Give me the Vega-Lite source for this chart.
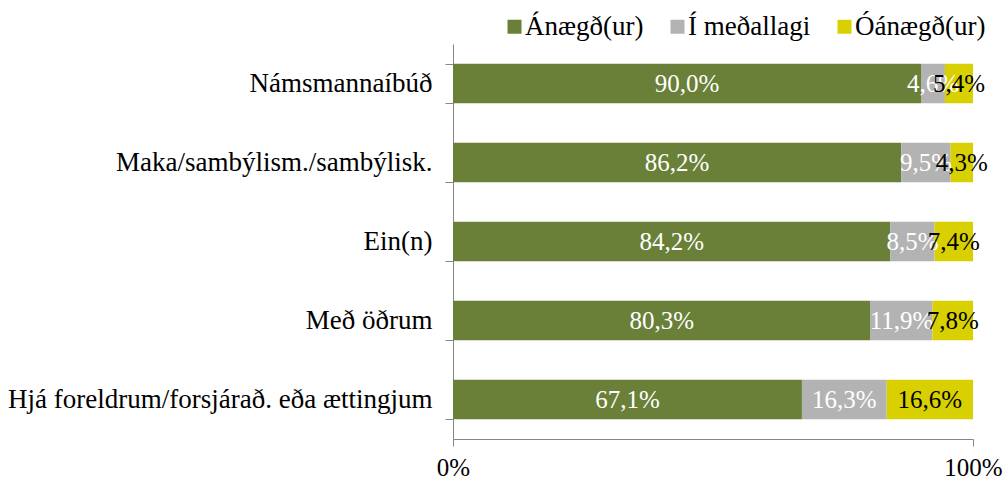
{
  "$schema": "https://vega.github.io/schema/vega-lite/v6.json",
  "autosize": "none",
  "width": 520,
  "height": 395,
  "padding": {"left": 453, "top": 44, "right": 30, "bottom": 40},
  "config": {
    "font": "Times New Roman, Liberation Serif, serif",
    "view": {"stroke": null},
    "locale": {"number": {"decimal": ",", "thousands": ".", "grouping": [3], "currency": ["", " kr."]}}
  },
  "data": {
    "values": [
      {"c": "Námsmannaíbúð", "g": "Ánægð(ur)", "v": 90.0},
      {"c": "Námsmannaíbúð", "g": "Í meðallagi", "v": 4.6},
      {"c": "Námsmannaíbúð", "g": "Óánægð(ur)", "v": 5.4},
      {"c": "Maka/sambýlism./sambýlisk.", "g": "Ánægð(ur)", "v": 86.2},
      {"c": "Maka/sambýlism./sambýlisk.", "g": "Í meðallagi", "v": 9.5},
      {"c": "Maka/sambýlism./sambýlisk.", "g": "Óánægð(ur)", "v": 4.3},
      {"c": "Ein(n)", "g": "Ánægð(ur)", "v": 84.2},
      {"c": "Ein(n)", "g": "Í meðallagi", "v": 8.5},
      {"c": "Ein(n)", "g": "Óánægð(ur)", "v": 7.4},
      {"c": "Með öðrum", "g": "Ánægð(ur)", "v": 80.3},
      {"c": "Með öðrum", "g": "Í meðallagi", "v": 11.9},
      {"c": "Með öðrum", "g": "Óánægð(ur)", "v": 7.8},
      {"c": "Hjá foreldrum/forsjárað. eða ættingjum", "g": "Ánægð(ur)", "v": 67.1},
      {"c": "Hjá foreldrum/forsjárað. eða ættingjum", "g": "Í meðallagi", "v": 16.3},
      {"c": "Hjá foreldrum/forsjárað. eða ættingjum", "g": "Óánægð(ur)", "v": 16.6}
    ]
  },
  "transform": [
    {"stack": "v", "groupby": ["c"], "sort": [{"field": "g", "order": "ascending"}], "offset": "normalize", "as": ["v0", "v1"]},
    {"calculate": "(datum.v0 + datum.v1) / 2", "as": "mid"},
    {"calculate": "datum.v / 100", "as": "pct"}
  ],
  "encoding": {
    "y": {
      "field": "c",
      "type": "nominal",
      "sort": null,
      "title": null,
      "scale": {"paddingInner": 0.5, "paddingOuter": 0.25},
      "axis": {
        "tickBand": "extent",
        "domainColor": "#868686",
        "tickColor": "#868686",
        "tickSize": 8,
        "labelFontSize": 27,
        "labelColor": "#000000",
        "labelPadding": 13,
        "labelLimit": 500
      }
    }
  },
  "layer": [
    {
      "mark": {"type": "bar"},
      "encoding": {
        "x": {
          "field": "v0",
          "type": "quantitative",
          "scale": {"domain": [0, 1], "nice": false},
          "axis": {
            "values": [0, 1],
            "format": "%",
            "grid": false,
            "title": null,
            "domainColor": "#868686",
            "tickColor": "#868686",
            "tickSize": 7,
            "labelFontSize": 25,
            "labelColor": "#000000",
            "labelPadding": 9,
            "labelFlush": false
          }
        },
        "x2": {"field": "v1"},
        "color": {
          "field": "g",
          "type": "nominal",
          "title": null,
          "scale": {
            "domain": ["Ánægð(ur)", "Í meðallagi", "Óánægð(ur)"],
            "range": ["#6a7f37", "#b3b3b3", "#d8d000"]
          },
          "legend": {
            "orient": "none",
            "direction": "horizontal",
            "legendX": 48,
            "legendY": -31,
            "padding": 0,
            "symbolType": "square",
            "symbolSize": 196,
            "symbolStrokeWidth": 0,
            "symbolOpacity": 1,
            "labelFontSize": 27,
            "labelColor": "#000000",
            "labelOffset": -3,
            "columnPadding": 20,
            "labelLimit": 300
          }
        }
      }
    },
    {
      "mark": {"type": "text", "fontSize": 25, "baseline": "middle", "align": "center"},
      "encoding": {
        "x": {"field": "mid", "type": "quantitative"},
        "text": {"field": "pct", "type": "quantitative", "format": ".1%"},
        "color": {
          "condition": {"test": "datum.g === 'Óánægð(ur)'", "value": "#000000"},
          "value": "#ffffff"
        }
      }
    }
  ]
}
